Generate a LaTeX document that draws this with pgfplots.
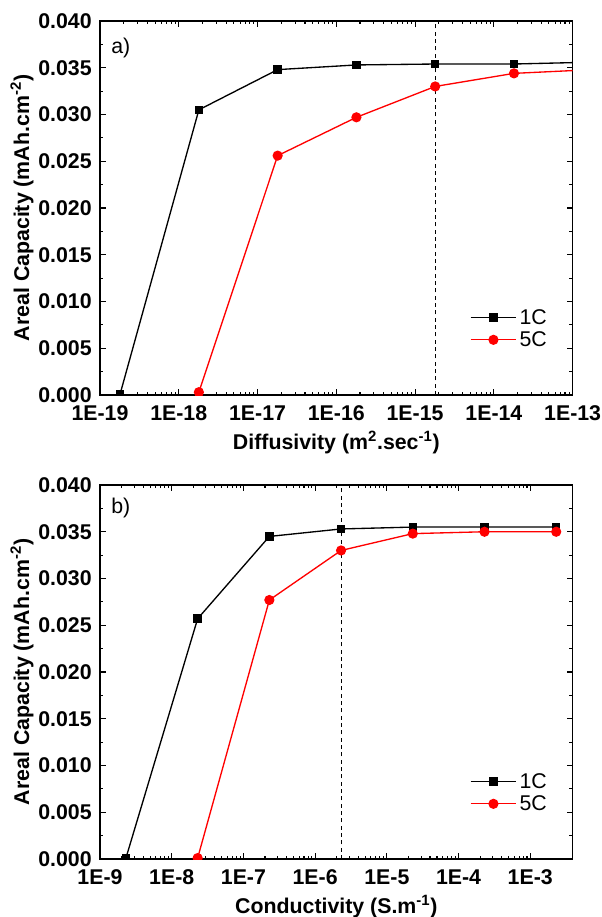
\documentclass[border=0pt]{standalone}
\usepackage{pgfplots}
\pgfplotsset{compat=1.18}
\usepackage{fontspec}
\setmainfont{Liberation Sans}
\newcommand{\tkf}{\bfseries\fontsize{16}{19}\selectfont}
\newcommand{\lgf}{\fontsize{16}{19}\selectfont}
\begin{document}
\begin{tikzpicture}
\useasboundingbox (0pt,0pt) rectangle (450.75pt,-687.75pt);
\begin{axis}[
  xmode=log,
  width=354.5pt, height=280.5pt, scale only axis,
  ymin=0, ymax=0.040,
  ytick={0,0.005,0.010,0.015,0.020,0.025,0.030,0.035,0.040},
  minor y tick num=1,
  scaled y ticks=false,
  yticklabel style={/pgf/number format/fixed, /pgf/number format/fixed zerofill, /pgf/number format/precision=3, font=\tkf, inner sep=1pt, xshift=-5pt},
  /pgf/number format/assume math mode=true,
  xticklabel style={font=\tkf, inner sep=1pt, yshift=-7pt},
  tick align=inside,
  major tick length=4.5pt, minor tick length=2.5pt,
  axis line style={line width=1.2pt},
  every tick/.style={black, line width=0.8pt},
  tick pos=both,
  clip marker paths=true,
  ylabel={\bfseries Areal Capacity (mAh.cm\textsuperscript{-2})},
  ylabel style={font=\tkf, at={(axis description cs:-0.165,0.5)}, anchor=center},
  xlabel style={font=\tkf, at={(axis description cs:0.5,-0.147)}, anchor=base},
  legend style={draw=none, fill=none, font=\lgf, at={(axis description cs:0.96,0.11)}, anchor=south east, row sep=0pt},
  legend cell align=left,
  legend image code/.code={\draw[mark repeat=2,mark phase=2] plot coordinates {(0cm,0cm) (0.6cm,0cm) (1.2cm,0cm)};},
  at={(75pt,-296.25pt)}, anchor=south west,
  xmin=1e-19, xmax=1e-13,
  xtick={1e-19,1e-18,1e-17,1e-16,1e-15,1e-14,1e-13},
  xticklabels={1E-19,1E-18,1E-17,1E-16,1E-15,1E-14,1E-13},
  xlabel={\bfseries Diffusivity (m\textsuperscript{2}.sec\textsuperscript{-1})},
]
\addplot[black, dashed, dash pattern=on 3pt off 2.5pt, line width=0.6pt, forget plot] coordinates {(1.8e-15,0) (1.8e-15,0.040)};
\addplot[black, line width=1pt, mark=square*, mark size=2.7pt, mark options={solid}] coordinates {(1.8e-19,0.0001) (1.8e-18,0.0305) (1.8e-17,0.0348) (1.8e-16,0.0353) (1.8e-15,0.0354) (1.8e-14,0.0354) (1.8e-13,0.0356)};
\addlegendentry{1C}
\addplot[red, line width=1pt, mark=*, mark size=3.3pt, mark options={solid}] coordinates {(1.8e-18,0.0003) (1.8e-17,0.0256) (1.8e-16,0.0297) (1.8e-15,0.0330) (1.8e-14,0.0344) (1.8e-13,0.0348)};
\addlegendentry{5C}
\node[font=\lgf, anchor=center] at (axis description cs:0.044,0.928) {a)};
\end{axis}
\begin{axis}[
  xmode=log,
  width=354.5pt, height=280.5pt, scale only axis,
  ymin=0, ymax=0.040,
  ytick={0,0.005,0.010,0.015,0.020,0.025,0.030,0.035,0.040},
  minor y tick num=1,
  scaled y ticks=false,
  yticklabel style={/pgf/number format/fixed, /pgf/number format/fixed zerofill, /pgf/number format/precision=3, font=\tkf, inner sep=1pt, xshift=-5pt},
  /pgf/number format/assume math mode=true,
  xticklabel style={font=\tkf, inner sep=1pt, yshift=-7pt},
  tick align=inside,
  major tick length=4.5pt, minor tick length=2.5pt,
  axis line style={line width=1.2pt},
  every tick/.style={black, line width=0.8pt},
  tick pos=both,
  clip marker paths=true,
  ylabel={\bfseries Areal Capacity (mAh.cm\textsuperscript{-2})},
  ylabel style={font=\tkf, at={(axis description cs:-0.165,0.5)}, anchor=center},
  xlabel style={font=\tkf, at={(axis description cs:0.5,-0.147)}, anchor=base},
  legend style={draw=none, fill=none, font=\lgf, at={(axis description cs:0.96,0.11)}, anchor=south east, row sep=0pt},
  legend cell align=left,
  legend image code/.code={\draw[mark repeat=2,mark phase=2] plot coordinates {(0cm,0cm) (0.6cm,0cm) (1.2cm,0cm)};},
  at={(75pt,-644.25pt)}, anchor=south west,
  xmin=1e-9, xmax=3.9e-3,
  xtick={1e-9,1e-8,1e-7,1e-6,1e-5,1e-4,1e-3},
  xticklabels={1E-9,1E-8,1E-7,1E-6,1E-5,1E-4,1E-3},
  xlabel={\bfseries Conductivity (S.m\textsuperscript{-1})},
]
\addplot[black, dashed, dash pattern=on 3pt off 2.5pt, line width=0.6pt, forget plot] coordinates {(2.3e-6,0) (2.3e-6,0.040)};
\addplot[black, line width=1pt, mark=square*, mark size=2.7pt, mark options={solid}] coordinates {(2.3e-9,0.0001) (2.3e-8,0.0257) (2.3e-7,0.0345) (2.3e-6,0.0353) (2.3e-5,0.0355) (2.3e-4,0.0355) (2.3e-3,0.0355)};
\addlegendentry{1C}
\addplot[red, line width=1pt, mark=*, mark size=3.3pt, mark options={solid}] coordinates {(2.3e-8,0.0001) (2.3e-7,0.0277) (2.3e-6,0.0330) (2.3e-5,0.0348) (2.3e-4,0.0350) (2.3e-3,0.0350)};
\addlegendentry{5C}
\node[font=\lgf, anchor=center] at (axis description cs:0.044,0.938) {b)};
\end{axis}
\end{tikzpicture}
\end{document}
